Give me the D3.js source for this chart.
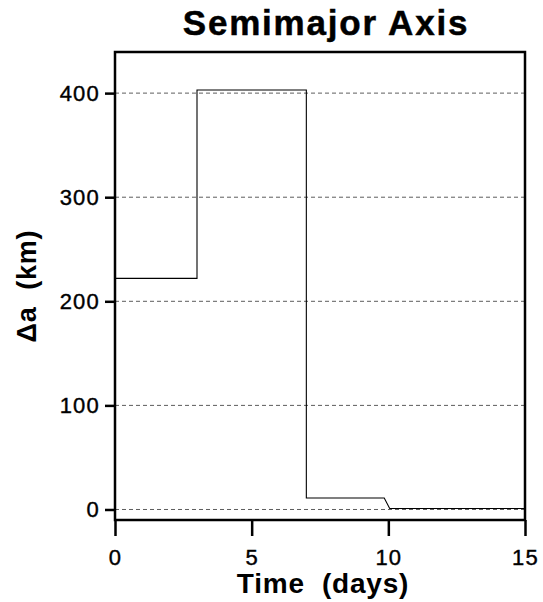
<!DOCTYPE html>
<html><head><meta charset="utf-8">
<script src="https://cdn.jsdelivr.net/npm/d3@7"></script>
<style>body{margin:0;background:#fff;} svg{display:block;font-family:"Liberation Sans",Arial,Helvetica,sans-serif;}</style>
</head><body>
<script>
// Data: step profile of semimajor axis change
const timeDays = [0, 3, 3, 7, 7, 9.85, 10.05, 15];
const deltaA   = [222, 222, 403, 403, 11, 11, 1, 1];
const xTicks = [0, 5, 10, 15];
const yTicks = [0, 100, 200, 300, 400];
const title = "Semimajor Axis";
const xLabel = "Time  (days)";
const yLabel = "Δa  (km)";

const W = 543, H = 602;
const m = {left:115, right:18, top:52, bottom:82};
const svg = d3.select("body").append("svg").attr("width", W).attr("height", H);

const x = d3.scaleLinear().domain([0, 15]).range([m.left, W - m.right]);
const y = d3.scaleLinear().domain([-10.1, 439.5]).range([H - m.bottom, m.top]);

// grid
svg.append("g").selectAll("line").data(yTicks).join("line")
  .attr("x1", m.left).attr("x2", W - m.right)
  .attr("y1", d => y(d)).attr("y2", d => y(d))
  .attr("stroke", "#333").attr("stroke-width", 0.8).attr("stroke-dasharray", "4,3");

// data line
const pts = timeDays.map((t, i) => [t, deltaA[i]]);
svg.append("path").datum(pts)
  .attr("d", d3.line().x(d => x(d[0])).y(d => y(d[1])))
  .attr("fill", "none").attr("stroke", "#000").attr("stroke-width", 1.1);

// frame
svg.append("rect").attr("x", m.left).attr("y", m.top)
  .attr("width", W - m.right - m.left).attr("height", H - m.bottom - m.top)
  .attr("fill", "none").attr("stroke", "#000").attr("stroke-width", 2.5);

// axes
const xa = svg.append("g").attr("transform", `translate(0,${H - m.bottom})`)
  .call(d3.axisBottom(x).tickValues(xTicks).tickSize(16).tickPadding(13).tickFormat(d3.format("d")));
xa.select(".domain").remove();
xa.selectAll("line").attr("stroke-width", 2.5);
xa.selectAll("text").attr("font-size", 22).attr("letter-spacing", 1.2).attr("fill", "#000")
  .attr("stroke", "#000").attr("stroke-width", 0.4);

const ya = svg.append("g").attr("transform", `translate(${m.left},0)`)
  .call(d3.axisLeft(y).tickValues(yTicks).tickSize(10).tickPadding(5).tickFormat(d3.format("d")));
ya.select(".domain").remove();
ya.selectAll("line").attr("stroke-width", 2.5);
ya.selectAll("text").attr("font-size", 22).attr("letter-spacing", 1.2).attr("fill", "#000")
  .attr("stroke", "#000").attr("stroke-width", 0.4);

// titles
svg.append("text").attr("x", 326).attr("y", 35).attr("text-anchor", "middle")
  .attr("font-size", 35).attr("letter-spacing", 1.8).attr("font-weight", "bold")
  .attr("stroke", "#000").attr("stroke-width", 0.5).text(title);
svg.append("text").attr("x", 323).attr("y", 593).attr("text-anchor", "middle")
  .attr("font-size", 28).attr("letter-spacing", 0.8).attr("font-weight", "bold").attr("xml:space", "preserve").style("white-space", "pre").text(xLabel);
svg.append("text").attr("transform", "translate(36,286) rotate(-90)").attr("text-anchor", "middle")
  .attr("font-size", 27).attr("letter-spacing", 0.8).attr("font-weight", "bold").attr("xml:space", "preserve").style("white-space", "pre").text(yLabel);
</script>
</body></html>
